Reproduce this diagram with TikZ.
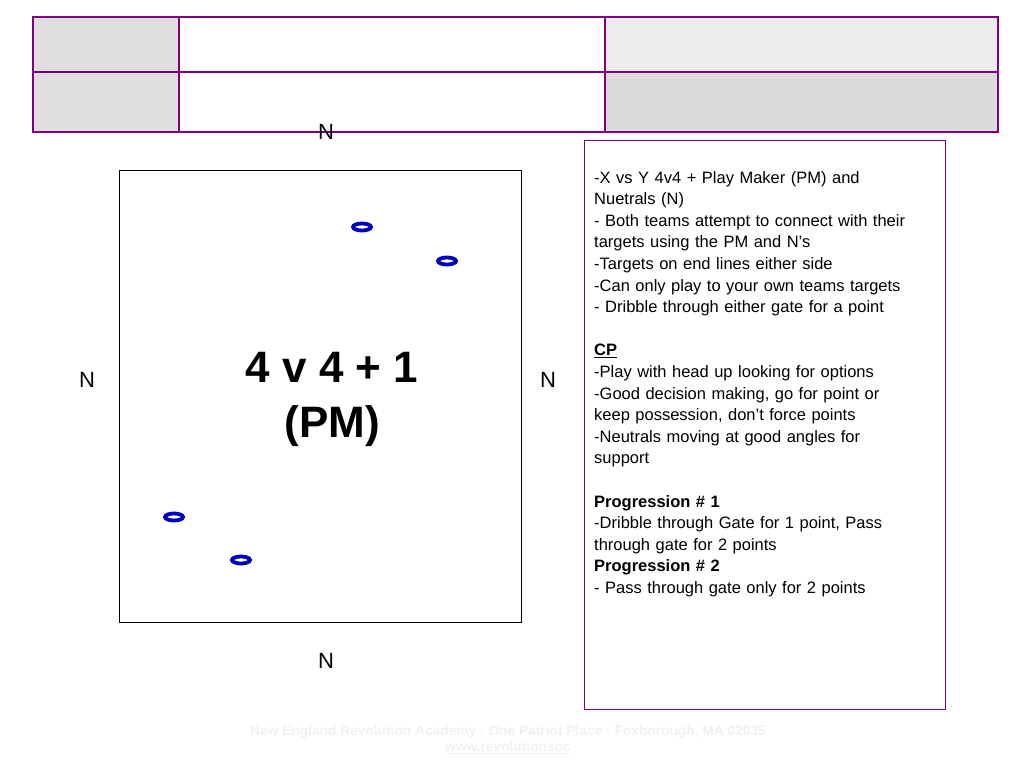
\documentclass[tikz,border=0pt]{standalone}
\usepackage{fontspec}
\setmainfont{Liberation Sans}
\usetikzlibrary{shapes.geometric}
\definecolor{pur}{RGB}{128,0,128}
\begin{document}
\begin{tikzpicture}[x=1pt,y=-1pt,
  cone/.style={ellipse,draw=blue!75!black,fill=white,line width=3.8pt,minimum width=18pt,minimum height=7pt,inner sep=0pt},
  lab/.style={font=\fontsize{22}{24}\selectfont},
  txt/.style={anchor=north west,align=left,text width=350pt,inner sep=0pt,font=\fontsize{16.5}{21.6}\selectfont}]
\useasboundingbox (0,0) rectangle (1024,768);
\fill[gray!25] (33,17) rectangle (179,132);
\fill[gray!15] (605,17) rectangle (998,72);
\fill[gray!28] (605,72) rectangle (998,132);
\draw[pur,line width=1.2pt] (33,17) rectangle (998,132);
\draw[pur,line width=1.2pt] (179,17) -- (179,132) (605,17) -- (605,132) (33,72) -- (998,72);
\node[draw,thick,minimum width=402pt,minimum height=452pt,anchor=north west,inner sep=0pt] (field) at (119,170) {};
\node[draw=pur,minimum width=361pt,minimum height=569pt,anchor=north west,inner sep=0pt] (box) at (584,140) {};
\node[cone] (c1) at (362,227) {};
\node[cone] (c2) at (447,261) {};
\node[cone] (c3) at (174,517) {};
\node[cone] (c4) at (241,560) {};
\node[font=\bfseries\fontsize{44}{55}\selectfont,align=center] (title) at (332,399) {4 v 4 + 1\\(PM)};
\node[lab] (nt) at (326,132) {N};
\node[lab] (nl) at (87,380) {N};
\node[lab] (nr) at (548,380) {N};
\node[lab] (nb) at (326,661) {N};
\node[txt] (t) at (594,171) {-X vs Y 4v4 + Play Maker (PM) and\\Nuetrals (N)\\- Both teams attempt to connect with their\\targets using the PM and N’s\\-Targets on end lines either side\\-Can only play to your own teams targets\\- Dribble through either gate for a point\\[21.6pt]
\textbf{\underline{CP}}\\-Play with head up looking for options\\-Good decision making, go for point or\\keep possession, don’t force points\\-Neutrals moving at good angles for\\support\\[21.6pt]
\textbf{Progression \# 1}\\-Dribble through Gate for 1 point, Pass\\through gate for 2 points\\\textbf{Progression \# 2}\\- Pass through gate only for 2 points};
\node[font=\bfseries\fontsize{13.75}{16}\selectfont,text=gray!12,align=center] (foot) at (508,740) {New England Revolution Academy · One Patriot Place · Foxborough, MA 02035\\\underline{www.revolutionsoc}};
\end{tikzpicture}
\end{document}
